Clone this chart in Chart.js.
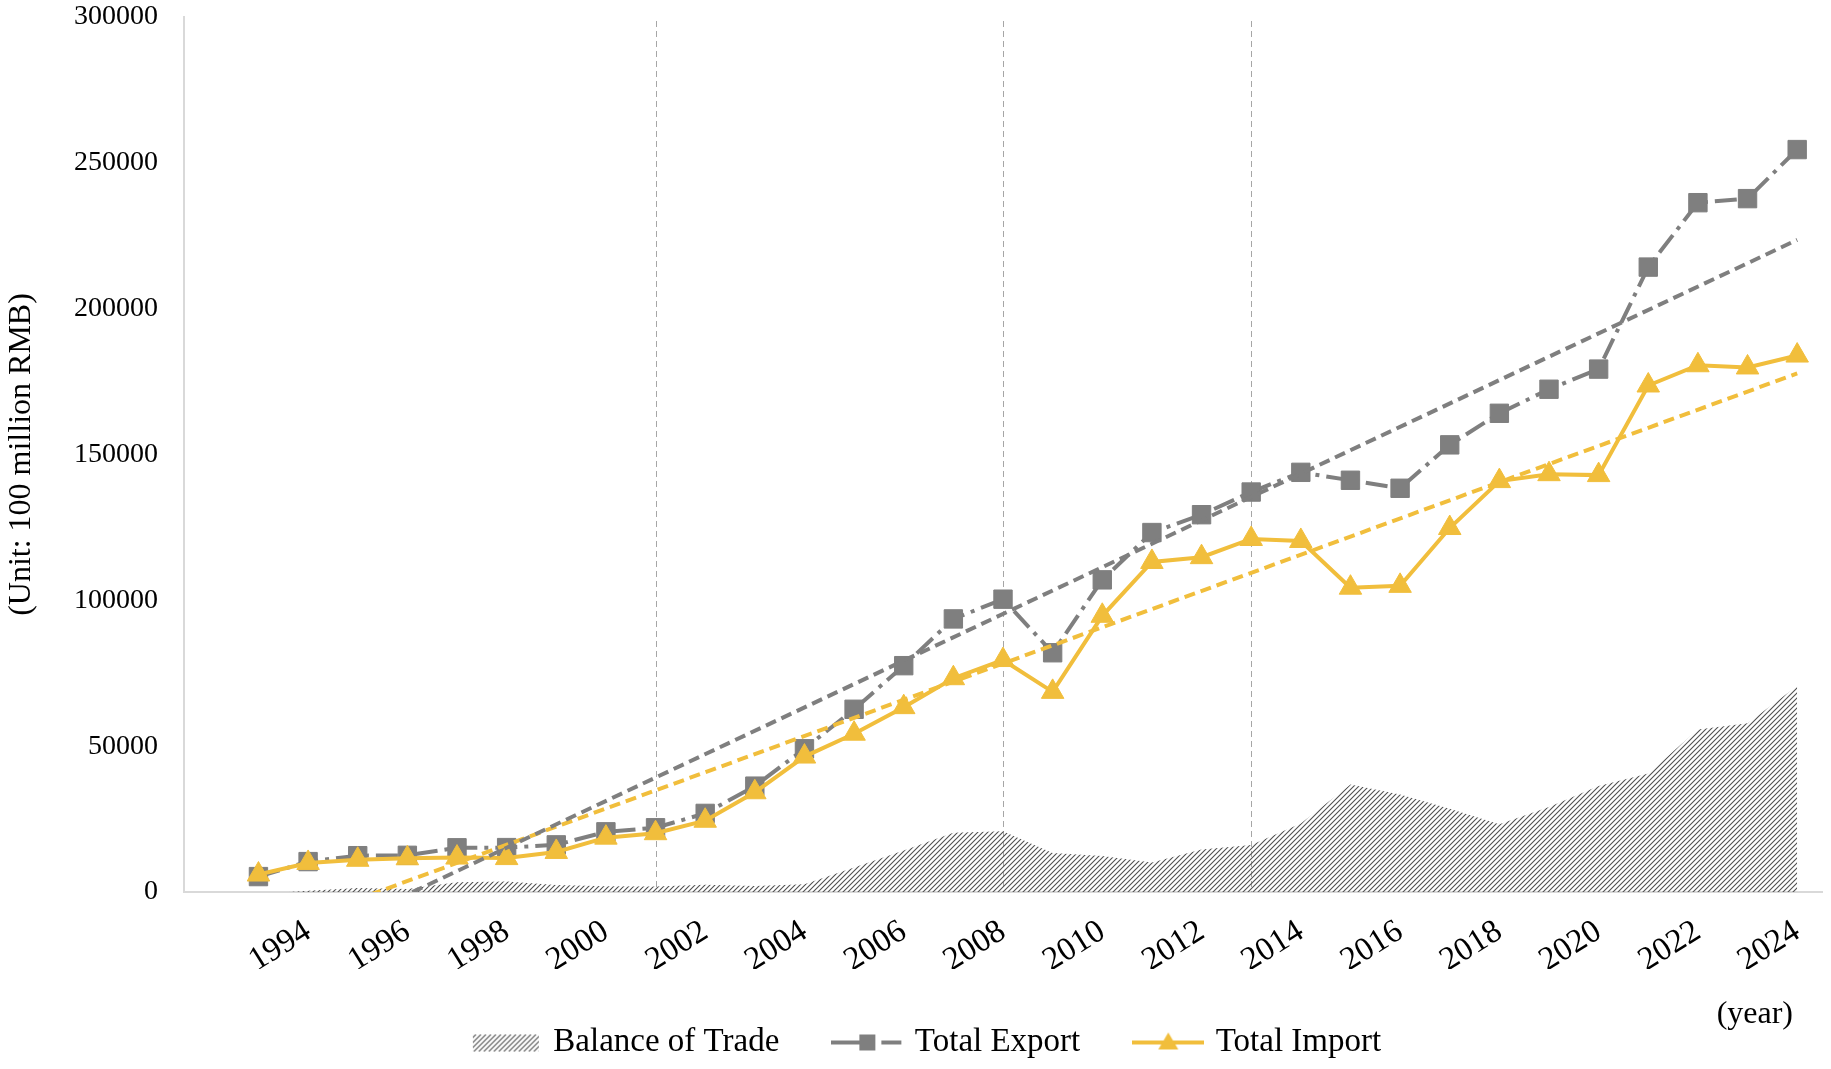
<!DOCTYPE html>
<html>
<head>
<meta charset="utf-8">
<script src="https://cdn.jsdelivr.net/npm/chart.js@4.4.1/dist/chart.umd.min.js"></script>
<style>
  html, body { margin: 0; padding: 0; background: #fff; }
</style>
</head>
<body>
<canvas id="myChart" width="1831" height="1069"></canvas>
<script>
// years on the x axis (1992 slot is left empty, as in the original)
const years = [1993, 1994, 1995, 1996, 1997, 1998, 1999, 2000, 2001, 2002, 2003, 2004, 2005, 2006, 2007, 2008,
               2009, 2010, 2011, 2012, 2013, 2014, 2015, 2016, 2017, 2018, 2019, 2020, 2021, 2022, 2023, 2024];
const tickYears = [1994, 1996, 1998, 2000, 2002, 2004, 2006, 2008, 2010, 2012, 2014, 2016, 2018, 2020, 2022, 2024];

// (unit: 100 million RMB)
const totalExport = [5285, 10422, 12452, 12576, 15161, 15224, 16160, 20634, 22024, 26948, 36288, 49103, 62648, 77597, 93627, 100395,
                     82030, 107023, 123241, 129359, 137131, 143884, 141167, 138419, 153309, 164129, 172374, 179279, 214255, 236337, 237726, 254545];
const totalImport = [5986, 9960, 11048, 11557, 11807, 11626, 13736, 18639, 20159, 24430, 34196, 46436, 54274, 63377, 73300, 79527,
                     68618, 94700, 113161, 114801, 121037, 120358, 104336, 104967, 124790, 140880, 143254, 142936, 173661, 180600, 179842, 183923];
const balanceOfTrade = [-701, 462, 1404, 1019, 3354, 3598, 2424, 1995, 1865, 2518, 2092, 2667, 8374, 14220, 20327, 20868,
                        13412, 12323, 10080, 14558, 16094, 23526, 36831, 33452, 28519, 23249, 29120, 36343, 40594, 55737, 57884, 70622];

// linear trend lines, end values
const trendYears = [1993, 2024];
const exportTrend = [-24900, 223600];
const importTrend = [-14900, 177800];

// dashed vertical reference years
const markerYears = [2001, 2008, 2013];

const GRAY = '#7f7f7f';
const GOLD = '#f1be3c';
const FONT = 'Liberation Serif';

var ctx = document.getElementById('myChart').getContext('2d');

function makeHatch(g) {
    const c = document.createElement('canvas');
    c.width = 5; c.height = 5;
    const h = c.getContext('2d');
    h.strokeStyle = '#505050';
    h.lineWidth = 1.1;
    h.beginPath();
    h.moveTo(0, 5); h.lineTo(5, 0);
    h.moveTo(-1, 1); h.lineTo(1, -1);
    h.moveTo(4, 6); h.lineTo(6, 4);
    h.stroke();
    return g.createPattern(c, 'repeat');
}

function legendIcon(kind) {
    const c = document.createElement('canvas');
    c.width = 72; c.height = 24;
    const g = c.getContext('2d');
    const mid = 12;
    if (kind === 'hatch') {
        g.fillStyle = makeHatch(g);
        g.fillRect(3, mid - 8, 66, 17);
    } else if (kind === 'export') {
        g.strokeStyle = GRAY; g.lineWidth = 4;
        g.beginPath();
        g.moveTo(0, mid); g.lineTo(28, mid);
        g.moveTo(50, mid); g.lineTo(70, mid);
        g.stroke();
        g.fillStyle = GRAY;
        g.fillRect(28, mid - 8, 16, 16);
    } else {
        g.strokeStyle = GOLD; g.lineWidth = 4;
        g.beginPath();
        g.moveTo(0, mid); g.lineTo(72, mid);
        g.stroke();
        g.fillStyle = GOLD;
        g.beginPath();
        g.moveTo(36, mid - 10); g.lineTo(46, mid + 7); g.lineTo(26, mid + 7);
        g.closePath(); g.fill();
    }
    return c;
}

const toPoints = (xs, ys) => xs.map((yr, i) => ({x: yr, y: ys[i]}));

const guides = {
    id: 'guides',
    beforeDatasetsDraw(chart) {
        const {ctx, chartArea, scales: {x}} = chart;
        ctx.save();
        ctx.strokeStyle = '#a6a6a6';
        ctx.lineWidth = 1;
        ctx.setLineDash([6, 4]);
        markerYears.forEach(yr => {
            const px = Math.round(x.getPixelForValue(yr)) + 0.5;
            ctx.beginPath();
            ctx.moveTo(px, chartArea.top + 4);
            ctx.lineTo(px, chartArea.bottom);
            ctx.stroke();
        });
        ctx.restore();
    },
    afterDraw(chart) {
        const {ctx, chartArea} = chart;
        ctx.save();
        ctx.font = '32px "' + FONT + '"';
        ctx.fillStyle = '#000';
        ctx.textAlign = 'right';
        ctx.textBaseline = 'middle';
        ctx.fillText('(year)', chartArea.right - 29, chart.height - 54);
        ctx.restore();
    }
};

var chart = new Chart(ctx, {
    type: 'line',
    data: {
        datasets: [{
            label: 'Export trend',
            data: toPoints(trendYears, exportTrend),
            borderColor: GRAY,
            borderWidth: 4,
            borderDash: [11, 6],
            pointRadius: 0,
            fill: false,
            order: 0
        }, {
            label: 'Import trend',
            data: toPoints(trendYears, importTrend),
            borderColor: GOLD,
            borderWidth: 4,
            borderDash: [11, 6],
            pointRadius: 0,
            fill: false,
            order: 1
        }, {
            label: 'Total Import',
            data: toPoints(years, totalImport),
            borderColor: GOLD,
            backgroundColor: GOLD,
            borderWidth: 4,
            pointStyle: 'triangle',
            pointRadius: 13,
            pointBorderWidth: 1,
            fill: false,
            order: 2
        }, {
            label: 'Total Export',
            data: toPoints(years, totalExport),
            borderColor: GRAY,
            backgroundColor: GRAY,
            borderWidth: 4,
            borderDash: [22, 7, 4, 7],
            pointStyle: 'rect',
            pointRadius: 13,
            pointBorderWidth: 1,
            fill: false,
            order: 3
        }, {
            label: 'Balance of Trade',
            data: toPoints(years, balanceOfTrade),
            borderColor: 'rgba(0,0,0,0)',
            borderWidth: 0,
            backgroundColor: makeHatch(ctx),
            pointRadius: 0,
            fill: 'origin',
            order: 4
        }]
    },
    options: {
        responsive: false,
        animation: false,
        events: [],
        layout: { autoPadding: false, padding: { top: 3, right: 9, left: 34, bottom: 0 } },
        scales: {
            x: {
                type: 'linear',
                min: 1991.5,
                max: 2024.5,
                afterBuildTicks: s => { s.ticks = tickYears.map(v => ({value: v})); },
                afterFit: s => { s.height = 77; s.paddingLeft = 0; s.paddingRight = 0; },
                grid: { display: false, drawTicks: false },
                border: { display: true, color: '#d9d9d9', width: 2 },
                ticks: {
                    autoSkip: false,
                    minRotation: 32,
                    maxRotation: 32,
                    padding: 20,
                    color: '#000',
                    font: { family: FONT, size: 33 },
                    callback: v => String(v)
                }
            },
            y: {
                min: 0,
                max: 300000,
                afterFit: s => { s.width = 150; s.paddingTop = 17; s.paddingBottom = 17; },
                grid: { display: false, drawTicks: false },
                border: { display: true, color: '#d9d9d9', width: 2 },
                ticks: {
                    stepSize: 50000,
                    padding: 26,
                    color: '#000',
                    font: { family: FONT, size: 28 },
                    callback: v => String(v)
                },
                title: {
                    display: true,
                    text: '(Unit: 100 million RMB)',
                    color: '#000',
                    font: { family: FONT, size: 32 },
                    padding: { top: -32, bottom: 0 }
                }
            }
        },
        plugins: {
            tooltip: { enabled: false },
            legend: {
                position: 'bottom',
                labels: {
                    usePointStyle: true,
                    pointStyleWidth: 62,
                    padding: 57,
                    color: '#000',
                    font: { family: FONT, size: 33 },
                    generateLabels: () => [
                        { text: 'Balance of Trade', pointStyle: legendIcon('hatch'), hidden: false, lineWidth: 0, datasetIndex: 4 },
                        { text: 'Total Export', pointStyle: legendIcon('export'), hidden: false, lineWidth: 0, datasetIndex: 3 },
                        { text: 'Total Import', pointStyle: legendIcon('import'), hidden: false, lineWidth: 0, datasetIndex: 2 }
                    ]
                }
            }
        }
    },
    plugins: [guides]
});
</script>
</body>
</html>
